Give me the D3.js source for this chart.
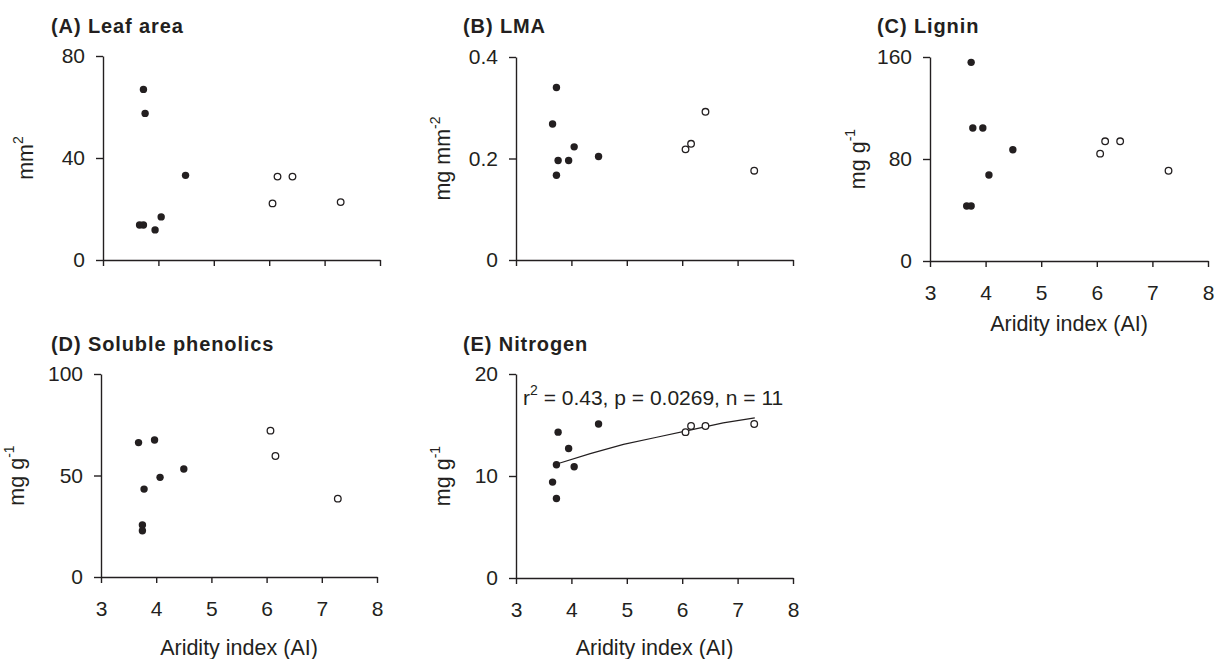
<!DOCTYPE html>
<html>
<head>
<meta charset="utf-8">
<script src="https://cdn.jsdelivr.net/npm/d3@7"></script>
<style>
body { margin: 0; background: #fff; }
text { font-family: "Liberation Sans", Arial, sans-serif; fill: #231f20; }
</style>
</head>
<body>
<div class="app"></div>
<script>
// values, dry sites filled, wet sites open
var xTicks = [3, 4, 5, 6, 7, 8];

var leafDryX = [3.73, 3.76, 3.66, 3.73, 3.94, 4.05, 4.49];
var leafDryY = [66.9, 57.5, 13.7, 13.7, 11.8, 16.9, 33.2];
var leafWetX = [6.06, 6.15, 6.42, 7.29];
var leafWetY = [22.2, 32.7, 32.7, 22.7];
var leafTicks = [0, 40, 80];

var lmaDryX = [3.73, 3.66, 3.76, 3.73, 3.95, 4.05, 4.49];
var lmaDryY = [0.340, 0.268, 0.196, 0.167, 0.196, 0.223, 0.204];
var lmaWetX = [6.06, 6.16, 6.42, 7.30];
var lmaWetY = [0.218, 0.229, 0.292, 0.176];
var lmaTicks = [0, 0.2, 0.4];

var ligDryX = [3.74, 3.77, 3.95, 4.49, 4.06, 3.66, 3.74];
var ligDryY = [155.8, 104.3, 104.3, 87.3, 67.5, 43.1, 43.1];
var ligWetX = [6.06, 6.15, 6.42, 7.29];
var ligWetY = [84.2, 93.9, 93.9, 70.8];
var ligTicks = [0, 80, 160];

var phenDryX = [3.68, 3.97, 3.78, 4.07, 4.50, 3.75, 3.75];
var phenDryY = [66.2, 67.5, 43.3, 49.1, 53.2, 25.6, 22.8];
var phenWetX = [6.07, 6.16, 7.29];
var phenWetY = [72.1, 59.6, 38.6];
var phenTicks = [0, 50, 100];

var nDryX = [3.76, 3.73, 3.66, 3.73, 3.95, 4.05, 4.49];
var nDryY = [14.3, 11.1, 9.4, 7.8, 12.7, 10.9, 15.1];
var nWetX = [6.06, 6.16, 6.42, 7.30];
var nWetY = [14.3, 14.9, 14.9, 15.1];
var nTicks = [0, 10, 20];
// fitted curve
var nFitX = [3.75, 4.34, 4.94, 5.54, 6.14, 6.74, 7.31];
var nFitY = [11.2, 12.2, 13.1, 13.8, 14.5, 15.2, 15.7];

var ink = "#231f20";
var svg = d3.select(".app").append("svg").attr("width", 1217).attr("height", 659);

function zip(xs, ys) {
    return xs.map(function (x, i) { return [x, ys[i]]; });
}

var panels = [
    {title: "(A) Leaf area", tx: 51, ty: 33, x0: 103, x1: 380, yb: 260, yt: 56,
     dry: zip(leafDryX, leafDryY), wet: zip(leafWetX, leafWetY), ticks: leafTicks,
     ylab: ["mm", "2"], lx: 33},
    {title: "(B) LMA", tx: 463, ty: 33, x0: 516, x1: 793, yb: 260, yt: 57,
     dry: zip(lmaDryX, lmaDryY), wet: zip(lmaWetX, lmaWetY), ticks: lmaTicks,
     ylab: ["mg mm", "-2"], lx: 450},
    {title: "(C) Lignin", tx: 877, ty: 33, x0: 930, x1: 1208, yb: 261, yt: 57,
     dry: zip(ligDryX, ligDryY), wet: zip(ligWetX, ligWetY), ticks: ligTicks,
     ylab: ["mg g", "-1"], lx: 865, xlab: 331},
    {title: "(D) Soluble phenolics", tx: 51, ty: 351, x0: 101, x1: 377, yb: 577, yt: 374,
     dry: zip(phenDryX, phenDryY), wet: zip(phenWetX, phenWetY), ticks: phenTicks,
     ylab: ["mg g", "-1"], lx: 24, xlab: 655},
    {title: "(E) Nitrogen", tx: 463, ty: 351, x0: 516, x1: 793, yb: 578, yt: 374,
     dry: zip(nDryX, nDryY), wet: zip(nWetX, nWetY), ticks: nTicks,
     ylab: ["mg g", "-1"], lx: 450, xlab: 655,
     fit: zip(nFitX, nFitY), stat: true}
];

panels.forEach(function (p) {
    var x = d3.scaleLinear().domain([3, 8]).range([p.x0, p.x1]);
    var y = d3.scaleLinear().domain([p.ticks[0], p.ticks[p.ticks.length - 1]]).range([p.yb, p.yt]);
    var g = svg.append("g");

    g.append("text").attr("x", p.tx).attr("y", p.ty)
        .attr("font-size", 20).attr("font-weight", "bold").attr("letter-spacing", 0.9)
        .text(p.title);

    var xa = d3.axisBottom(x).tickValues(xTicks).tickSize(6).tickSizeOuter(0).tickPadding(18)
        .tickFormat(p.xlab ? d3.format("") : "");
    var gx = g.append("g").attr("transform", "translate(0," + p.yb + ")").call(xa);

    var ya = d3.axisLeft(y).tickValues(p.ticks).tickSize(7).tickSizeOuter(0).tickPadding(11)
        .tickFormat(d3.format(""));
    var gy = g.append("g").attr("transform", "translate(" + p.x0 + ",0)").call(ya);

    [gx, gy].forEach(function (a) {
        a.attr("font-size", 21).attr("font-family", null);
        a.selectAll("path, line").attr("stroke", ink).attr("stroke-width", 1.4);
        a.selectAll("text").attr("fill", ink);
    });

    if (p.xlab) {
        g.append("text").attr("x", (p.x0 + p.x1) / 2).attr("y", p.xlab)
            .attr("text-anchor", "middle").attr("font-size", 21.5)
            .text("Aridity index (AI)");
    }

    var yl = g.append("text").attr("text-anchor", "middle").attr("font-size", 21.5)
        .attr("transform", "translate(" + p.lx + "," + (p.yb + p.yt) / 2 + ") rotate(-90)");
    yl.append("tspan").text(p.ylab[0]);
    yl.append("tspan").attr("font-size", 14).attr("dy", -10).text(p.ylab[1]);

    if (p.fit) {
        g.append("path").datum(p.fit)
            .attr("fill", "none").attr("stroke", ink).attr("stroke-width", 1.2)
            .attr("d", d3.line().x(function (d) { return x(d[0]); }).y(function (d) { return y(d[1]); }));
    }

    g.selectAll(".dry").data(p.dry).enter().append("circle")
        .attr("cx", function (d) { return x(d[0]); })
        .attr("cy", function (d) { return y(d[1]); })
        .attr("r", 3.7).attr("fill", ink);

    g.selectAll(".wet").data(p.wet).enter().append("circle")
        .attr("cx", function (d) { return x(d[0]); })
        .attr("cy", function (d) { return y(d[1]); })
        .attr("r", 3.3).attr("fill", "#fff").attr("stroke", ink).attr("stroke-width", 1.3);

    if (p.stat) {
        var st = g.append("text").attr("x", 523).attr("y", 405).attr("font-size", 21);
        st.append("tspan").text("r");
        st.append("tspan").attr("font-size", 14).attr("dy", -10).text("2");
        st.append("tspan").attr("dy", 10).text(" = 0.43, p = 0.0269, n = 11");
    }
});
</script>
</body>
</html>
